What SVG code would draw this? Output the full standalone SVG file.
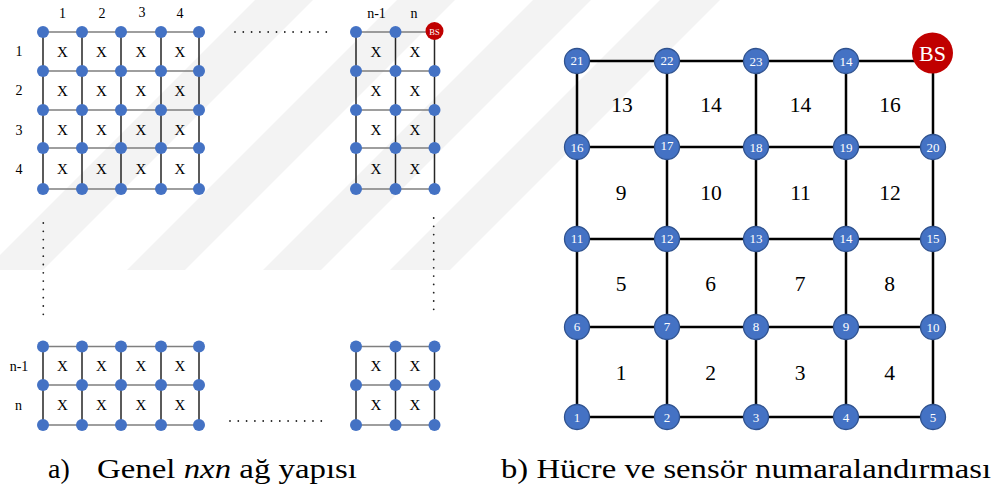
<svg xmlns="http://www.w3.org/2000/svg" xmlns:xlink="http://www.w3.org/1999/xlink" width="1000" height="489" viewBox="0 0 1000 489">
  <style>
    .band { fill: #f3f3f3; }
    .hl { stroke: #7f7f7f; stroke-width: 1.5; fill: none; }
    .vl { stroke: #262626; stroke-width: 1.5; fill: none; }
    .dots { stroke: #222; stroke-width: 1.8; stroke-linecap: round; stroke-dasharray: 0 8.3; fill: none; }
    .sn { fill: #4472C4; }
    .bs-s { fill: #C00000; }
    .lbl { font-family: Liberation Serif, Times New Roman, serif; fill: #000; text-anchor: middle; dominant-baseline: central; }
    .sm { font-size: 14px; }
    .x { font-size: 15px; }
    .edge { stroke: #000; stroke-width: 2.5; fill: none; }
    .node { fill: #4472C4; stroke: #2F528F; stroke-width: 1.3; }
    .nl { font-family: Liberation Serif, Times New Roman, serif; font-size: 13px; fill: #fff; text-anchor: middle; dominant-baseline: central; }
    .cell { font-family: Liberation Serif, Times New Roman, serif; font-size: 21.5px; fill: #000; text-anchor: middle; dominant-baseline: central; }
    .cap { font-family: Liberation Serif, Times New Roman, serif; font-size: 28px; fill: #000; }
  </style>
  <defs>
    <circle id="dot" r="6" class="sn"/>
  </defs>

  <rect width="1000" height="489" fill="#fff"/>

  <!-- faint diagonal background bands -->
  <g id="background">
    <polygon class="band" points="-15,270 43,270 313,0 255,0"/>
    <polygon class="band" points="127,270 185,270 455,0 397,0"/>
    <polygon class="band" points="263,270 321,270 591,0 533,0"/>
    <polygon class="band" points="390,270 450,270 720,0 660,0"/>
  </g>

  <!-- (a) general n x n grid -->
  <g id="grid-a-lines">
    <!-- top-left block -->
    <path class="hl" d="M43,32H199M43,71H199M43,110H199M43,148H199M43,189H199"/>
    <path class="vl" d="M43,32V189M82,32V189M121,32V189M161,32V189M199,32V189"/>
    <!-- top-right block -->
    <path class="hl" d="M356,32H434.5M356,71H434.5M356,110H434.5M356,148H434.5M356,189H434.5"/>
    <path class="vl" d="M356,32V189M395.5,32V189M434.5,32V189"/>
    <!-- bottom-left block -->
    <path class="hl" d="M43,346.5H199M43,385H199M43,425H199"/>
    <path class="vl" d="M43,346.5V425M82,346.5V425M121,346.5V425M161,346.5V425M199,346.5V425"/>
    <!-- bottom-right block -->
    <path class="hl" d="M356,346.5H434.5M356,385H434.5M356,425H434.5"/>
    <path class="vl" d="M356,346.5V425M395.5,346.5V425M434.5,346.5V425"/>
    <!-- ellipses -->
    <path class="dots" d="M235,32H328"/>
    <path class="dots" d="M230,421H323"/>
    <path class="dots" d="M43.3,223V315"/>
    <path class="dots" d="M433.7,218V310"/>
  </g>

  <g id="grid-a-nodes">
    <!-- top-left block, rows 1..5 -->
    <g id="a-tl-r1"><use xlink:href="#dot" x="43" y="32"/><use xlink:href="#dot" x="82" y="32"/><use xlink:href="#dot" x="121" y="32"/><use xlink:href="#dot" x="161" y="32"/><use xlink:href="#dot" x="199" y="32"/></g>
    <g id="a-tl-r2"><use xlink:href="#dot" x="43" y="71"/><use xlink:href="#dot" x="82" y="71"/><use xlink:href="#dot" x="121" y="71"/><use xlink:href="#dot" x="161" y="71"/><use xlink:href="#dot" x="199" y="71"/></g>
    <g id="a-tl-r3"><use xlink:href="#dot" x="43" y="110"/><use xlink:href="#dot" x="82" y="110"/><use xlink:href="#dot" x="121" y="110"/><use xlink:href="#dot" x="161" y="110"/><use xlink:href="#dot" x="199" y="110"/></g>
    <g id="a-tl-r4"><use xlink:href="#dot" x="43" y="148"/><use xlink:href="#dot" x="82" y="148"/><use xlink:href="#dot" x="121" y="148"/><use xlink:href="#dot" x="161" y="148"/><use xlink:href="#dot" x="199" y="148"/></g>
    <g id="a-tl-r5"><use xlink:href="#dot" x="43" y="189"/><use xlink:href="#dot" x="82" y="189"/><use xlink:href="#dot" x="121" y="189"/><use xlink:href="#dot" x="161" y="189"/><use xlink:href="#dot" x="199" y="189"/></g>
    <!-- top-right block -->
    <g id="a-tr-r1"><use xlink:href="#dot" x="356" y="32"/><use xlink:href="#dot" x="395.5" y="32"/></g>
    <g id="a-tr-r2"><use xlink:href="#dot" x="356" y="71"/><use xlink:href="#dot" x="395.5" y="71"/><use xlink:href="#dot" x="434.5" y="71"/></g>
    <g id="a-tr-r3"><use xlink:href="#dot" x="356" y="110"/><use xlink:href="#dot" x="395.5" y="110"/><use xlink:href="#dot" x="434.5" y="110"/></g>
    <g id="a-tr-r4"><use xlink:href="#dot" x="356" y="148"/><use xlink:href="#dot" x="395.5" y="148"/><use xlink:href="#dot" x="434.5" y="148"/></g>
    <g id="a-tr-r5"><use xlink:href="#dot" x="356" y="189"/><use xlink:href="#dot" x="395.5" y="189"/><use xlink:href="#dot" x="434.5" y="189"/></g>
    <g id="a-bs">
      <circle class="bs-s" cx="434.5" cy="31" r="9"/>
      <text x="434.5" y="31.5" font-family="Liberation Serif, serif" font-size="8.5" fill="#fff" text-anchor="middle" dominant-baseline="central">BS</text>
    </g>
    <!-- bottom-left block -->
    <g id="a-bl-r1"><use xlink:href="#dot" x="43" y="346.5"/><use xlink:href="#dot" x="82" y="346.5"/><use xlink:href="#dot" x="121" y="346.5"/><use xlink:href="#dot" x="161" y="346.5"/><use xlink:href="#dot" x="199" y="346.5"/></g>
    <g id="a-bl-r2"><use xlink:href="#dot" x="43" y="385"/><use xlink:href="#dot" x="82" y="385"/><use xlink:href="#dot" x="121" y="385"/><use xlink:href="#dot" x="161" y="385"/><use xlink:href="#dot" x="199" y="385"/></g>
    <g id="a-bl-r3"><use xlink:href="#dot" x="43" y="425"/><use xlink:href="#dot" x="82" y="425"/><use xlink:href="#dot" x="121" y="425"/><use xlink:href="#dot" x="161" y="425"/><use xlink:href="#dot" x="199" y="425"/></g>
    <!-- bottom-right block -->
    <g id="a-br-r1"><use xlink:href="#dot" x="356" y="346.5"/><use xlink:href="#dot" x="395.5" y="346.5"/><use xlink:href="#dot" x="434.5" y="346.5"/></g>
    <g id="a-br-r2"><use xlink:href="#dot" x="356" y="385"/><use xlink:href="#dot" x="395.5" y="385"/><use xlink:href="#dot" x="434.5" y="385"/></g>
    <g id="a-br-r3"><use xlink:href="#dot" x="356" y="425"/><use xlink:href="#dot" x="395.5" y="425"/><use xlink:href="#dot" x="434.5" y="425"/></g>
  </g>

  <g id="grid-a-labels">
    <!-- column / row indices -->
    <text class="lbl sm" x="62.5" y="13">1</text>
    <text class="lbl sm" x="102" y="13">2</text>
    <text class="lbl sm" x="142" y="12">3</text>
    <text class="lbl sm" x="180" y="13">4</text>
    <text class="lbl sm" x="376.5" y="13">n-1</text>
    <text class="lbl sm" x="414" y="13">n</text>
    <text class="lbl sm" x="19" y="51">1</text>
    <text class="lbl sm" x="19" y="90.5">2</text>
    <text class="lbl sm" x="19" y="130">3</text>
    <text class="lbl sm" x="19" y="169">4</text>
    <text class="lbl sm" x="19" y="366">n-1</text>
    <text class="lbl sm" x="18.5" y="405">n</text>
    <!-- cell marks -->
    <g class="lbl x">
      <text x="62.5" y="51.5">X</text><text x="101.5" y="51.5">X</text><text x="141" y="51.5">X</text><text x="180" y="51.5">X</text>
      <text x="62.5" y="90.5">X</text><text x="101.5" y="90.5">X</text><text x="141" y="90.5">X</text><text x="180" y="90.5">X</text>
      <text x="62.5" y="129.5">X</text><text x="101.5" y="129.5">X</text><text x="141" y="129.5">X</text><text x="180" y="129.5">X</text>
      <text x="62.5" y="169">X</text><text x="101.5" y="169">X</text><text x="141" y="169">X</text><text x="180" y="169">X</text>
      <text x="375.8" y="51.5">X</text><text x="415" y="51.5">X</text>
      <text x="375.8" y="90.5">X</text><text x="415" y="90.5">X</text>
      <text x="375.8" y="129.5">X</text><text x="415" y="129.5">X</text>
      <text x="375.8" y="169">X</text><text x="415" y="169">X</text>
      <text x="62.5" y="366">X</text><text x="101.5" y="366">X</text><text x="141" y="366">X</text><text x="180" y="366">X</text>
      <text x="62.5" y="405">X</text><text x="101.5" y="405">X</text><text x="141" y="405">X</text><text x="180" y="405">X</text>
      <text x="375.8" y="366">X</text><text x="415" y="366">X</text>
      <text x="375.8" y="405">X</text><text x="415" y="405">X</text>
    </g>
  </g>

  <!-- (b) cell and sensor numbering -->
  <g id="connectors">
    <path class="edge" d="M577,61H933M577,147H933M577,239H933M577,327H933M577,417H933"/>
    <path class="edge" d="M577,61V417M667,61V417M756,61V417M846,61V417M933,53V417"/>
  </g>

  <g id="cells-b">
    <text class="cell" x="622" y="104.5">13</text><text class="cell" x="711" y="104.5">14</text><text class="cell" x="800.5" y="104.5">14</text><text class="cell" x="890" y="104.5">16</text>
    <text class="cell" x="621" y="193">9</text><text class="cell" x="711" y="193">10</text><text class="cell" x="800.5" y="193">11</text><text class="cell" x="890" y="193">12</text>
    <text class="cell" x="621" y="284">5</text><text class="cell" x="710.5" y="284">6</text><text class="cell" x="800" y="284">7</text><text class="cell" x="889.5" y="284">8</text>
    <text class="cell" x="621" y="373">1</text><text class="cell" x="710.5" y="373">2</text><text class="cell" x="800" y="373">3</text><text class="cell" x="889.5" y="373">4</text>
  </g>

  <g id="n21"><circle class="node" cx="577" cy="61" r="12.5"/><text class="nl" x="577" y="60">21</text></g>
  <g id="n22"><circle class="node" cx="667" cy="61" r="12.5"/><text class="nl" x="667" y="60">22</text></g>
  <g id="n23"><circle class="node" cx="756" cy="61" r="12.5"/><text class="nl" x="756" y="61.5">23</text></g>
  <g id="n14-top"><circle class="node" cx="846" cy="61" r="12.5"/><text class="nl" x="846" y="61.5">14</text></g>
  <g id="bs"><circle cx="932.5" cy="53" r="20.5" fill="#C00000"/><text x="932.5" y="53.5" font-family="Liberation Serif, serif" font-size="22" fill="#fff" text-anchor="middle" dominant-baseline="central">BS</text></g>

  <g id="n16"><circle class="node" cx="577" cy="147" r="12.5"/><text class="nl" x="577" y="147">16</text></g>
  <g id="n17"><circle class="node" cx="667" cy="147" r="12.5"/><text class="nl" x="667" y="145.5">17</text></g>
  <g id="n18"><circle class="node" cx="756" cy="147" r="12.5"/><text class="nl" x="756" y="147">18</text></g>
  <g id="n19"><circle class="node" cx="846" cy="147" r="12.5"/><text class="nl" x="846" y="147">19</text></g>
  <g id="n20"><circle class="node" cx="933" cy="147" r="12.5"/><text class="nl" x="933" y="147">20</text></g>

  <g id="n11"><circle class="node" cx="577" cy="239" r="12.5"/><text class="nl" x="577" y="238.5">11</text></g>
  <g id="n12"><circle class="node" cx="667" cy="239" r="12.5"/><text class="nl" x="667" y="238.5">12</text></g>
  <g id="n13"><circle class="node" cx="756" cy="239" r="12.5"/><text class="nl" x="756" y="238.5">13</text></g>
  <g id="n14"><circle class="node" cx="846" cy="239" r="12.5"/><text class="nl" x="846" y="238.5">14</text></g>
  <g id="n15"><circle class="node" cx="933" cy="239" r="12.5"/><text class="nl" x="933" y="238.5">15</text></g>

  <g id="n6"><circle class="node" cx="577" cy="327" r="12.5"/><text class="nl" x="577" y="326.5">6</text></g>
  <g id="n7"><circle class="node" cx="667" cy="327" r="12.5"/><text class="nl" x="667" y="326">7</text></g>
  <g id="n8"><circle class="node" cx="756" cy="327" r="12.5"/><text class="nl" x="756" y="326.5">8</text></g>
  <g id="n9"><circle class="node" cx="846" cy="327" r="12.5"/><text class="nl" x="846" y="326.5">9</text></g>
  <g id="n10"><circle class="node" cx="933" cy="327" r="12.5"/><text class="nl" x="933" y="327.5">10</text></g>

  <g id="n1"><circle class="node" cx="577" cy="417" r="12.5"/><text class="nl" x="577" y="417">1</text></g>
  <g id="n2"><circle class="node" cx="667" cy="417" r="12.5"/><text class="nl" x="667" y="417">2</text></g>
  <g id="n3"><circle class="node" cx="756" cy="417" r="12.5"/><text class="nl" x="756" y="417.5">3</text></g>
  <g id="n4"><circle class="node" cx="846" cy="417" r="12.5"/><text class="nl" x="846" y="417">4</text></g>
  <g id="n5"><circle class="node" cx="933" cy="417" r="12.5"/><text class="nl" x="933" y="417">5</text></g>

  <!-- captions -->
  <g id="captions">
    <text class="cap" x="48" y="478">a)</text>
    <text class="cap" x="97" y="478" textLength="260" lengthAdjust="spacingAndGlyphs">Genel <tspan font-style="italic">nxn</tspan> ağ yapısı</text>
    <text class="cap" x="501" y="478" textLength="490" lengthAdjust="spacingAndGlyphs">b) Hücre ve sensör numaralandırması</text>
  </g>
</svg>
